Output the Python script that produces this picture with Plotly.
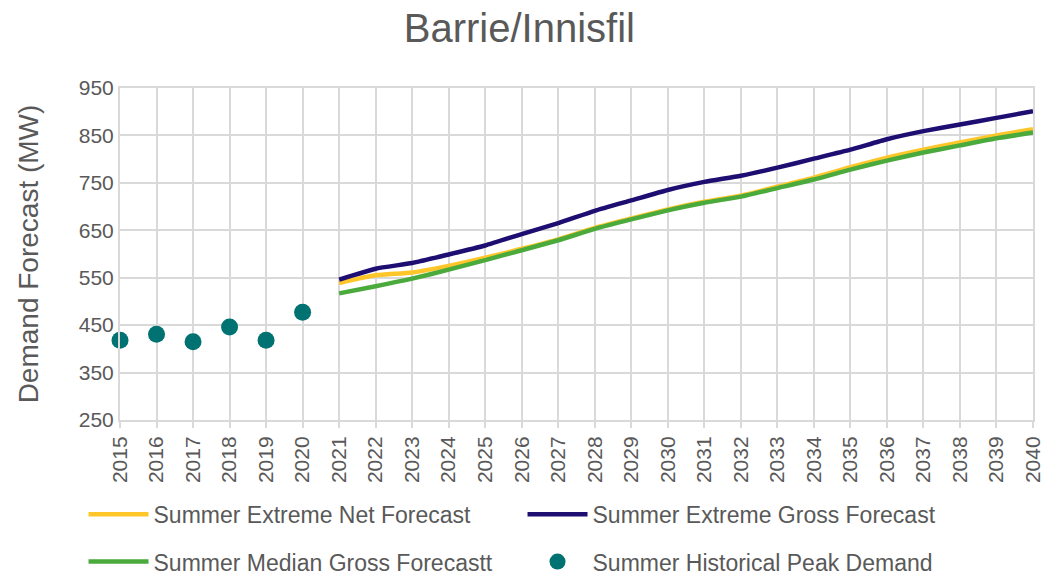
import plotly.graph_objects as go

hist_years = [2015, 2016, 2017, 2018, 2019, 2020]
hist_peak = [418, 431, 415, 446, 418, 477]

fc_years = list(range(2021, 2041))
extreme_net = [539, 555, 561, 575, 592, 611, 631, 655, 675, 694, 710, 723, 742, 761, 783, 803, 820, 835, 850, 863]
extreme_gross = [546, 569, 581, 599, 618, 642, 665, 691, 713, 735, 752, 765, 782, 801, 820, 842, 859, 873, 887, 901]
median_gross = [517, 532, 548, 567, 587, 608, 629, 653, 673, 692, 708, 721, 739, 757, 778, 797, 814, 829, 844, 856]

FONT = "Liberation Sans"
GREY = "#595959"

fig = go.Figure()
fig.add_trace(go.Scatter(x=fc_years, y=extreme_net, mode="lines", name="Summer Extreme Net Forecast",
                         line=dict(color="#FFC629", width=4.5, shape="spline", smoothing=0.5), legend="legend"))
fig.add_trace(go.Scatter(x=fc_years, y=extreme_gross, mode="lines", name="Summer Extreme Gross Forecast",
                         line=dict(color="#1E0E72", width=4.5, shape="spline", smoothing=0.5), legend="legend"))
fig.add_trace(go.Scatter(x=fc_years, y=median_gross, mode="lines", name="Summer Median Gross Forecastt",
                         line=dict(color="#4AAA3C", width=4.5, shape="spline", smoothing=0.5), legend="legend2"))
fig.add_trace(go.Scatter(x=hist_years, y=hist_peak, mode="markers", name="Summer Historical Peak Demand",
                         marker=dict(color="#007272", size=17), cliponaxis=False, legend="legend2"))

leg_common = dict(orientation="h", xanchor="left", yanchor="middle", x=0.08,
                  xref="container", yref="container",
                  font=dict(family=FONT, size=23, color=GREY), itemwidth=60,
                  entrywidth=364, entrywidthmode="pixels", bgcolor="rgba(0,0,0,0)")

fig.update_layout(
    width=1044, height=576,
    margin=dict(l=120, r=11, t=88, b=156, autoexpand=False),
    paper_bgcolor="white", plot_bgcolor="white",
    title=dict(text="Barrie/Innisfil", x=0.4975, xanchor="center", y=0.951, yanchor="middle",
               font=dict(family=FONT, size=40, color=GREY)),
    xaxis=dict(range=[2015, 2040], dtick=1, tick0=2015, tickangle=-90,
               tickfont=dict(family=FONT, size=21, color=GREY),
               showgrid=True, gridcolor="#D9D9D9", gridwidth=2,
               showline=True, linecolor="#D9D9D9", linewidth=2, mirror=True,
               ticks="outside", ticklen=6, tickcolor="#D9D9D9", tickwidth=2, zeroline=False),
    yaxis=dict(range=[250, 950], dtick=100, tick0=250,
               tickfont=dict(family=FONT, size=21, color=GREY),
               showgrid=True, gridcolor="#D9D9D9", gridwidth=2,
               showline=True, linecolor="#D9D9D9", linewidth=2, mirror=True,
               zeroline=False,
               title=dict(text="Demand Forecast (MW)", font=dict(family=FONT, size=28, color=GREY), standoff=32)),
    legend=dict(y=0.107, **leg_common),
    legend2=dict(y=0.025, **leg_common),
)

fig.write_html("out.html", config={"displayModeBar": False},
               post_script="document.body.style.margin='0';")
